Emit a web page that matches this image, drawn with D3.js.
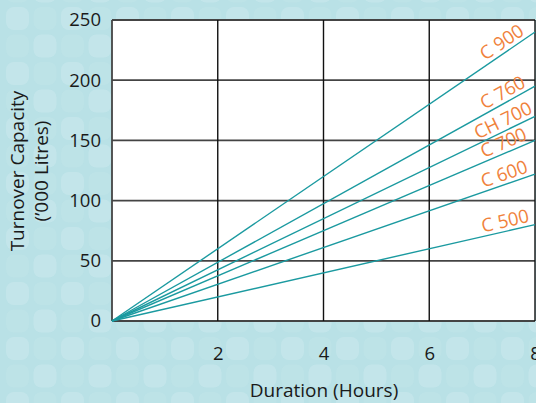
<!DOCTYPE html>
<html lang="en">
<head>
<meta charset="UTF-8">
<title>Turnover Capacity vs Duration</title>
<script src="https://d3js.org/d3.v7.min.js"></script>
<style>
  html, body { margin: 0; padding: 0; background: #b9e1e6; }
  svg { display: block; font-family: "Open Sans", "Noto Sans", sans-serif; }
</style>
</head>
<body>
<div id="chart"></div>
<script>
// Model names and the capacity ('000 litres) reached after 8 hours
const models = ["C 900", "C 760", "CH 700", "C 700", "C 600", "C 500"];
const capacityAt8 = [240, 195, 170, 150, 122, 80];

// Axis ticks
const xTicks = [2, 4, 6, 8];
const yTicks = [0, 50, 100, 150, 200, 250];

const W = 536, H = 403;
const plot = {left: 112, right: 535, top: 20, bottom: 321};

const svg = d3.select("#chart").append("svg")
    .attr("width", W)
    .attr("height", H);

// background pattern of pale rounded squares
const bg = svg.append("g");
bg.append("rect").attr("width", W).attr("height", H).attr("fill", "#b9e1e6");
const cell = 27.5;
for (let j = -1; j * cell < H; j++) {
  for (let i = 0; i * cell < W; i++) {
    bg.append("rect")
        .attr("x", 6 + i * cell)
        .attr("y", 7 + j * cell)
        .attr("width", 23)
        .attr("height", 23)
        .attr("rx", 8)
        .attr("fill", "#d0ecef")
        .attr("opacity", (i + j) % 2 === 0 ? 0.45 : 0.18);
  }
}

const x = d3.scaleLinear().domain([0, 8]).range([plot.left, plot.right]);
const y = d3.scaleLinear().domain([0, 250]).range([plot.bottom, plot.top]);

// plot background
svg.append("rect")
    .attr("x", plot.left).attr("y", plot.top)
    .attr("width", plot.right - plot.left)
    .attr("height", plot.bottom - plot.top)
    .attr("fill", "#ffffff");

// grid lines
svg.append("g")
    .selectAll("line")
    .data(yTicks)
    .join("line")
    .attr("x1", plot.left).attr("x2", plot.right)
    .attr("y1", d => y(d)).attr("y2", d => y(d))
    .attr("stroke", "#444")
    .attr("stroke-width", 1.8);

svg.append("g")
    .selectAll("line")
    .data(xTicks)
    .join("line")
    .attr("x1", d => x(d)).attr("x2", d => x(d))
    .attr("y1", plot.top).attr("y2", plot.bottom)
    .attr("stroke", "#111")
    .attr("stroke-width", 1.4);

svg.append("line")
    .attr("x1", plot.left).attr("x2", plot.left)
    .attr("y1", plot.top).attr("y2", plot.bottom)
    .attr("stroke", "#444").attr("stroke-width", 1.8);

// axes (labels only, no domain or tick marks)
const yAxis = svg.append("g")
    .attr("transform", `translate(${plot.left},0)`)
    .call(d3.axisLeft(y).tickValues(yTicks).tickSize(0).tickPadding(11));
const xAxis = svg.append("g")
    .attr("transform", `translate(0,${plot.bottom})`)
    .call(d3.axisBottom(x).tickValues(xTicks).tickSize(0).tickPadding(26));
[xAxis, yAxis].forEach(a => {
  a.select(".domain").remove();
  a.selectAll("text")
      .attr("fill", "#1a1a1a")
      .style("font-size", "18.5px")
      .style("font-family", "'Open Sans', sans-serif");
});

// capacity lines
const series = models.map((m, i) => ({name: m, values: [[0, 0], [8, capacityAt8[i]]]}));
const line = d3.line().x(d => x(d[0])).y(d => y(d[1]));

svg.append("g")
    .selectAll("path")
    .data(series)
    .join("path")
    .attr("d", d => line(d.values))
    .attr("fill", "none")
    .attr("stroke", "#1b9aa0")
    .attr("stroke-width", 1.4);

// rotated labels along each line
const labelAt = 7.48;
svg.append("g")
    .selectAll("text")
    .data(series)
    .join("text")
    .attr("transform", d => {
      const v = d.values[1][1];
      const px = x(labelAt), py = y(v * labelAt / 8);
      const ang = Math.atan2(y(v) - y(0), x(8) - x(0)) * 180 / Math.PI;
      return `translate(${px},${py}) rotate(${ang})`;
    })
    .attr("dy", -4)
    .attr("text-anchor", "middle")
    .attr("fill", "#f0823c")
    .style("font-size", "18.5px")
    .text(d => d.name);

// axis titles
svg.append("text")
    .attr("x", 324).attr("y", 397)
    .attr("text-anchor", "middle")
    .attr("fill", "#1a1a1a")
    .style("font-size", "19px")
    .text("Duration (Hours)");

const yt = svg.append("text")
    .attr("transform", "translate(0,171) rotate(-90)")
    .attr("text-anchor", "middle")
    .attr("fill", "#1a1a1a")
    .style("font-size", "19px");
yt.append("tspan").attr("x", 0).attr("y", 24).text("Turnover Capacity");
yt.append("tspan").attr("x", 0).attr("y", 48).text("(’000 Litres)");
</script>
</body>
</html>
